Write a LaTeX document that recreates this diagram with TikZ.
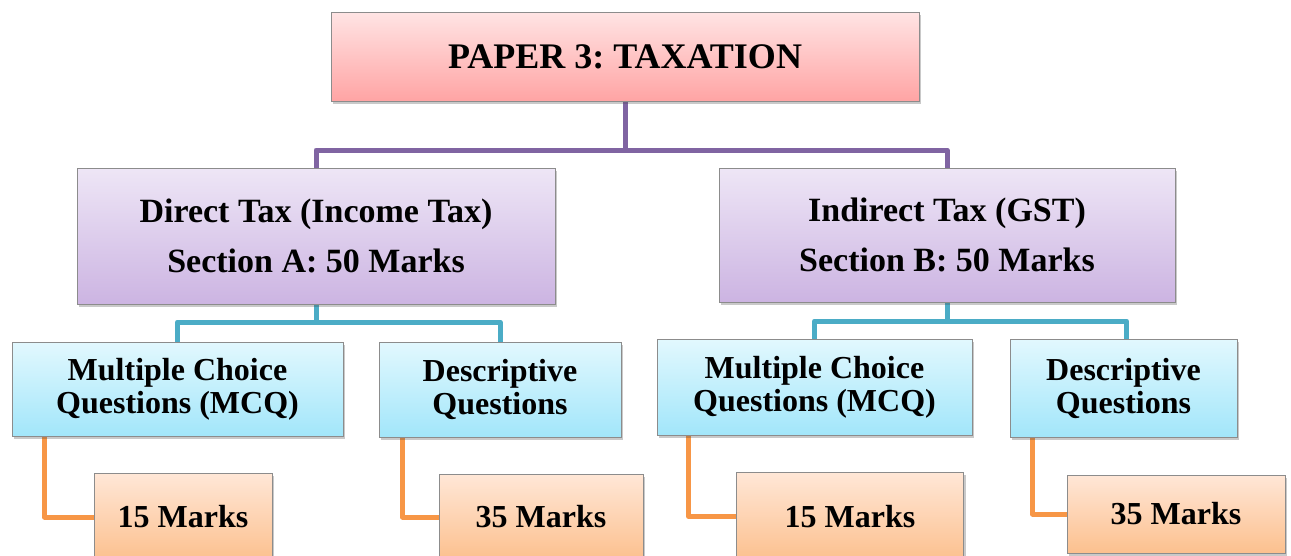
\documentclass[tikz,border=0pt]{standalone}
\usepackage{fontspec}
\setmainfont{Liberation Serif}
\usetikzlibrary{shadows,backgrounds}
\frenchspacing

\definecolor{pinktop}{HTML}{FFE4E4}
\definecolor{pinkbot}{HTML}{FFA4A4}
\definecolor{purptop}{HTML}{EEE6F6}
\definecolor{purpbot}{HTML}{CCB4E2}
\definecolor{bluetop}{HTML}{E2F8FE}
\definecolor{bluebot}{HTML}{A2E6FA}
\definecolor{orgtop}{HTML}{FFE7D7}
\definecolor{orgbot}{HTML}{FCC08E}
\definecolor{boxedge}{HTML}{8C8C8C}
\definecolor{purpline}{HTML}{8064A2}
\definecolor{tealline}{HTML}{4BACC6}
\definecolor{orgline}{HTML}{F79646}

\begin{document}
\frenchspacing
\begin{tikzpicture}[x=1pt,y=-1pt,
  box/.style={draw=boxedge, line width=0.8pt, align=center, inner sep=0pt,
    text=black, font=\bfseries,
    drop shadow={shadow xshift=2pt, shadow yshift=-3pt, opacity=0.3, fill=black!70}},
  titlebox/.style={box, top color=pinktop, bottom color=pinkbot,
    font=\fontsize{36}{40}\selectfont\bfseries},
  sectbox/.style={box, top color=purptop, bottom color=purpbot,
    font=\fontsize{34}{50}\selectfont\bfseries},
  qbox/.style={box, top color=bluetop, bottom color=bluebot,
    font=\fontsize{32}{33}\selectfont\bfseries},
  markbox/.style={box, top color=orgtop, bottom color=orgbot,
    font=\fontsize{32}{36}\selectfont\bfseries},
  conn/.style={line width=5pt, line join=round, line cap=round},
  ]
\useasboundingbox (0,0) rectangle (1291,555);

% top level
\node[titlebox, minimum width=588pt, minimum height=89pt] (top) at (625,56.5) {PAPER 3: TAXATION};

% sections
\node[sectbox, minimum width=478pt, minimum height=136pt] (dtax) at (316,236)
  {Direct Tax (Income Tax)\\Section A: 50 Marks};
\node[sectbox, minimum width=456pt, minimum height=134pt] (itax) at (947,235)
  {Indirect Tax (GST)\\Section B: 50 Marks};

% question types
\node[qbox, minimum width=331pt, minimum height=94pt] (mcqA) at (177.5,389)
  {Multiple Choice\\Questions (MCQ)};
\node[qbox, minimum width=242pt, minimum height=95pt] (descA) at (500,389.5)
  {Descriptive\\Questions};
\node[qbox, minimum width=315pt, minimum height=96pt] (mcqB) at (814.5,387)
  {Multiple Choice\\Questions (MCQ)};
\node[qbox, minimum width=227pt, minimum height=98pt] (descB) at (1123.5,388)
  {Descriptive\\Questions};

% marks
\node[markbox, minimum width=178pt, minimum height=88pt] (mkA1) at (183,517) {15 Marks};
\node[markbox, minimum width=204pt, minimum height=86pt] (mkA2) at (541,517) {35 Marks};
\node[markbox, minimum width=227pt, minimum height=89pt] (mkB1) at (850,516.5) {15 Marks};
\node[markbox, minimum width=218pt, minimum height=78pt] (mkB2) at (1176,514) {35 Marks};

\begin{pgfonlayer}{background}
  % paper to sections
  \coordinate (pj) at (625,150);
  \draw[conn, purpline] (top.south) -- (pj);
  \draw[conn, purpline] (dtax.north) |- (pj) -| (itax.north);
  % sections to question types
  \coordinate (tjA) at (316,322);
  \draw[conn, tealline] (dtax.south) -- (tjA);
  \draw[conn, tealline] (mcqA.north) |- (tjA) -| (descA.north);
  \coordinate (tjB) at (947,321);
  \draw[conn, tealline] (itax.south) -- (tjB);
  \draw[conn, tealline] (mcqB.north) |- (tjB) -| ([xshift=3pt]descB.north);
  % question types to marks
  \draw[conn, orgline] ([xshift=33pt]mcqA.south west) |- (mkA1.west);
  \draw[conn, orgline] ([xshift=24pt]descA.south west) |- (mkA2.west);
  \draw[conn, orgline] ([xshift=32pt]mcqB.south west) |- (mkB1.west);
  \draw[conn, orgline] ([xshift=23pt]descB.south west) |- (mkB2.west);
\end{pgfonlayer}
\end{tikzpicture}
\end{document}
